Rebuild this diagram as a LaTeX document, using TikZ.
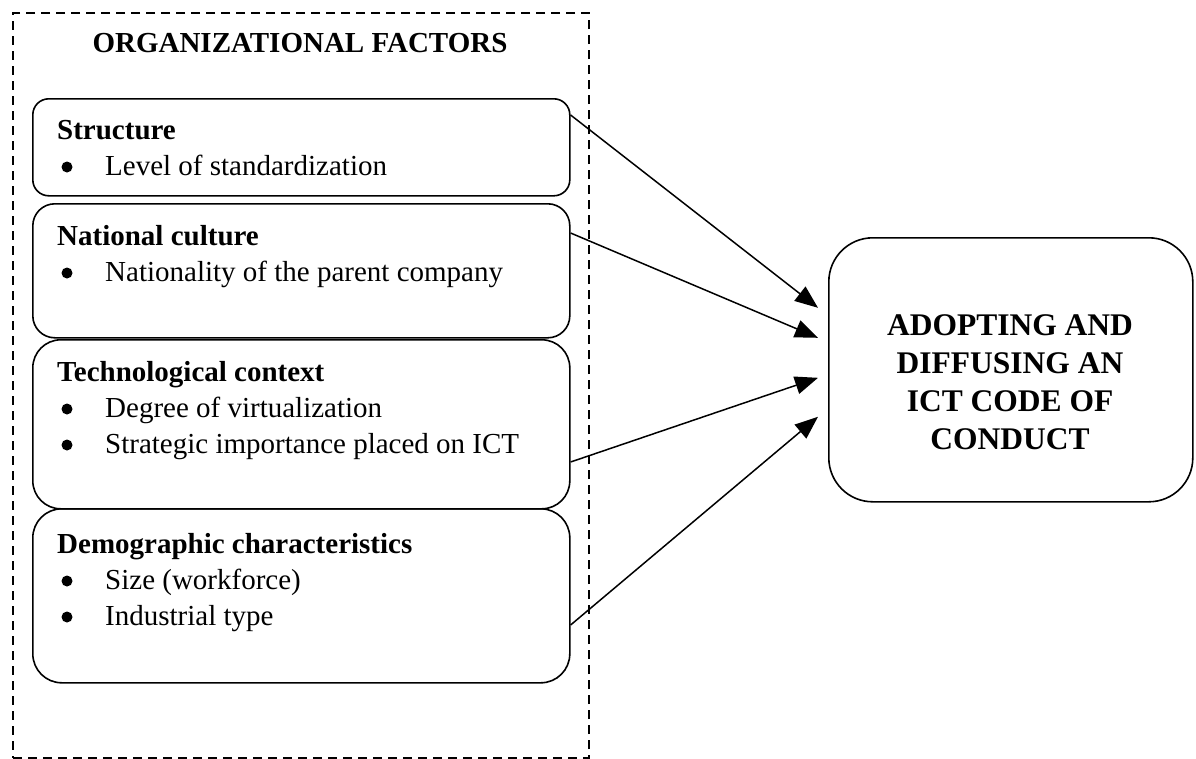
\documentclass[tikz,border=0pt]{standalone}
\usepackage{fontspec}
\setmainfont{Liberation Serif}
\usetikzlibrary{arrows.meta,calc}
\begin{document}
\begin{tikzpicture}[x=1pt,y=-1pt,
  box/.style={draw,line width=1.6pt,rounded corners=#1,inner sep=0pt,anchor=north west,minimum width=537pt},
  orgbox/.style={draw,line width=2.4pt,dash pattern=on 9pt off 6pt,inner sep=0pt,anchor=north west,minimum width=576pt,minimum height=745pt},
  head/.style={font=\fontsize{29}{35}\selectfont\bfseries,anchor=base west,inner sep=0pt},
  item/.style={font=\fontsize{29}{35}\selectfont,anchor=base west,inner sep=0pt},
  dot/.style={circle,fill=black,inner sep=0pt,minimum size=11pt},
  outline/.style={font=\fontsize{31.5}{38}\selectfont\bfseries,anchor=base,inner sep=0pt},
  arr/.style={line width=1.5pt,-{Triangle[length=23pt,width=18pt]}}]
\useasboundingbox (0,0) rectangle (1196,758);
\fill[white] (0,0) rectangle (1196,758);

% dashed container
\node[orgbox] (org) at (12,12) {};
\node[head,anchor=base] (title) at (300,52) {ORGANIZATIONAL FACTORS};

% factor boxes
\node[box=16pt,minimum height=97pt] (b1) at (32,98) {};
\node[box=22pt,minimum height=134pt] (b2) at (32,203) {};
\node[box=28pt,minimum height=169pt] (b3) at (32,339) {};
\node[box=29pt,minimum height=174pt] (b4) at (32,508) {};

% outcome box
\node[box=44pt,minimum width=364pt,minimum height=264pt] (out) at (828,237) {};

% texts box 1
\node[head] (t1) at (57,139) {Structure};
\node[dot] (d11) at (67,167) {};
\node[item] (i11) at (105,175) {Level of standardization};
% box 2
\node[head] (t2) at (57,245) {National culture};
\node[dot] (d21) at (67,273) {};
\node[item] (i21) at (105,281) {Nationality of the parent company};
% box 3
\node[head] (t3) at (57,381) {Technological context};
\node[dot] (d31) at (67,409) {};
\node[item] (i31) at (105,417) {Degree of virtualization};
\node[dot] (d32) at (67,445) {};
\node[item] (i32) at (105,453) {Strategic importance placed on ICT};
% box 4
\node[head] (t4) at (57,553) {Demographic characteristics};
\node[dot] (d41) at (67,581) {};
\node[item] (i41) at (105,589) {Size (workforce)};
\node[dot] (d42) at (67,617) {};
\node[item] (i42) at (105,625) {Industrial type};

% outcome text
\node[outline] (o1) at (1010,335) {ADOPTING AND};
\node[outline] (o2) at (1010,373) {DIFFUSING AN};
\node[outline] (o3) at (1010,411) {ICT CODE OF};
\node[outline] (o4) at (1010,449) {CONDUCT};

% arrows
\draw[arr] ($(b1.north east)+(0,17)$) -- ($(out.west)+(-10,-62)$);
\draw[arr] ($(b2.north east)+(0,30)$) -- ($(out.west)+(-10,-32)$);
\draw[arr] ($(b3.north east)+(0,123)$) -- ($(out.west)+(-10,8)$);
\draw[arr] ($(b4.north east)+(0,117)$) -- ($(out.west)+(-10,47)$);
\end{tikzpicture}
\end{document}
